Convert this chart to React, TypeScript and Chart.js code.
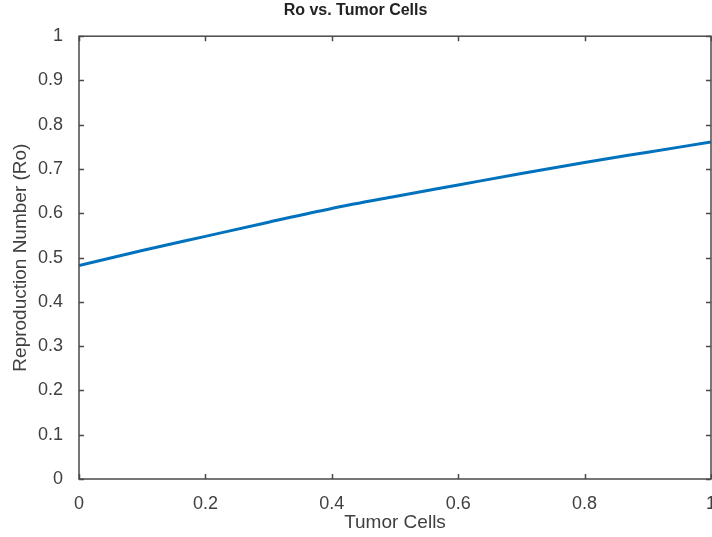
import React, { useEffect, useRef } from "react";
import { Chart, registerables } from "chart.js";

Chart.register(...registerables);

const titleText = "Ro vs. Tumor Cells";
const xTitle = "Tumor Cells";
const yTitle = "Reproduction Number (Ro)";
const tumorCells = [0, 0.1, 0.2, 0.3, 0.4, 0.5, 0.6, 0.7, 0.8, 0.9, 1.0];
const ro = [0.482, 0.516, 0.548, 0.58, 0.611, 0.638, 0.664, 0.69, 0.715, 0.738, 0.761];
const xTicks = [0, 0.2, 0.4, 0.6, 0.8, 1];
const yTicks = [0, 0.1, 0.2, 0.3, 0.4, 0.5, 0.6, 0.7, 0.8, 0.9, 1];

const AXIS = "#4a4a4a";
const TEXT = "#404040";
const FONT = "'Liberation Sans', Arial, sans-serif";

const boxPlugin = {
  id: "matlabBox",
  afterDraw(chart: any) {
    const { ctx, chartArea: a, scales } = chart;
    ctx.save();
    ctx.strokeStyle = AXIS;
    ctx.lineWidth = 1.5;
    const tl = 5;
    ctx.beginPath();
    for (const v of xTicks) {
      const px = Math.round(scales.x.getPixelForValue(v)) + 0.5;
      ctx.moveTo(px, a.bottom);
      ctx.lineTo(px, a.bottom - tl);
      ctx.moveTo(px, a.top);
      ctx.lineTo(px, a.top + tl);
    }
    for (const v of yTicks) {
      const py = Math.round(scales.y.getPixelForValue(v)) + 0.5;
      ctx.moveTo(a.left, py);
      ctx.lineTo(a.left + tl, py);
      ctx.moveTo(a.right, py);
      ctx.lineTo(a.right - tl, py);
    }
    ctx.stroke();
    ctx.strokeRect(a.left, a.top, a.right - a.left, a.bottom - a.top);
    ctx.restore();
  },
};

export default function App() {
  const ref = useRef<HTMLCanvasElement>(null);
  useEffect(() => {
    if (!ref.current) return;
    const chart = new Chart(ref.current, {
      type: "line",
      data: {
        datasets: [
          {
            data: tumorCells.map((x, i) => ({ x, y: ro[i] })),
            borderColor: "#0072BD",
            borderWidth: 3,
            pointRadius: 0,
            cubicInterpolationMode: "monotone",
            fill: false,
          },
        ],
      },
      options: {
        animation: false,
        responsive: false,
        layout: { padding: { left: 0, right: 29, top: 0, bottom: 0 } },
        plugins: {
          legend: { display: false },
          tooltip: { enabled: false },
          title: {
            display: true,
            text: titleText,
            color: "#222",
            font: { family: FONT, size: 16, weight: "bold" },
            padding: { top: 1, bottom: 16 },
          },
        },
        scales: {
          x: {
            type: "linear",
            min: 0,
            max: 1,
            afterBuildTicks: (s: any) => {
              s.ticks = xTicks.map((v) => ({ value: v }));
            },
            afterFit: (s: any) => {
              s.height = 58;
            },
            grid: { display: false },
            border: { display: false },
            ticks: {
              color: TEXT,
              padding: 6,
              maxRotation: 0,
              font: { family: FONT, size: 18 },
              callback: (v: any) => String(v),
            },
            title: {
              display: true,
              text: xTitle,
              color: TEXT,
              font: { family: FONT, size: 19 },
              padding: { top: 0, bottom: 3 },
            },
          },
          y: {
            type: "linear",
            min: 0,
            max: 1,
            afterBuildTicks: (s: any) => {
              s.ticks = yTicks.map((v) => ({ value: v }));
            },
            afterFit: (s: any) => {
              s.width = 79;
            },
            grid: { display: false },
            border: { display: false },
            ticks: {
              color: TEXT,
              padding: 8,
              font: { family: FONT, size: 18 },
              callback: (v: any) => String(v),
            },
            title: {
              display: true,
              text: yTitle,
              color: TEXT,
              font: { family: FONT, size: 19 },
              padding: { top: 9, bottom: 0 },
            },
          },
        },
      },
      plugins: [boxPlugin],
    } as any);
    return () => chart.destroy();
  }, []);
  return (
    <div
      style={{
        position: "fixed",
        left: 0,
        top: 0,
        width: 712,
        height: 537,
        overflow: "hidden",
        background: "#fff",
      }}
    >
      <canvas ref={ref} width={740} height={537} style={{ display: "block" }} />
    </div>
  );
}
